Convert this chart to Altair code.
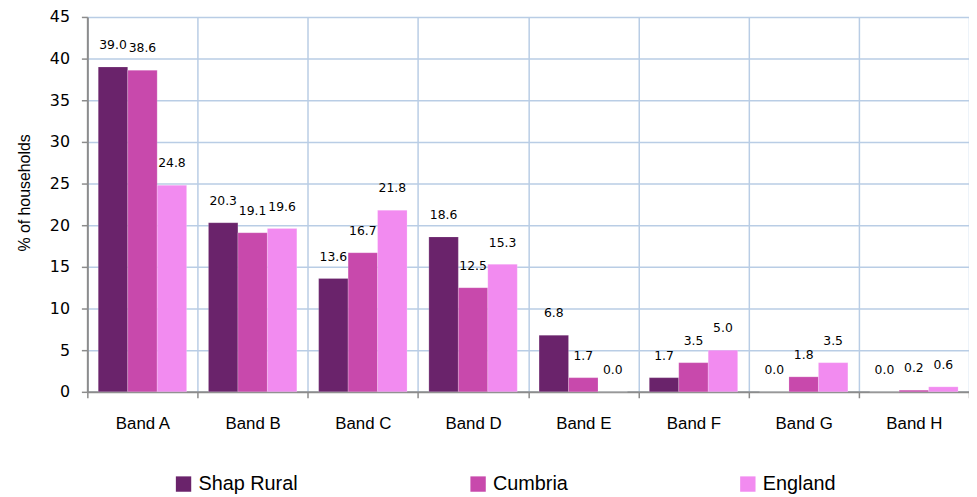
import altair as alt
import pandas as pd

bands = ["Band A", "Band B", "Band C", "Band D", "Band E", "Band F", "Band G", "Band H"]
series = ["Shap Rural", "Cumbria", "England"]
shap_rural = [39.0, 20.3, 13.6, 18.6, 6.8, 1.7, 0.0, 0.0]
cumbria = [38.6, 19.1, 16.7, 12.5, 1.7, 3.5, 1.8, 0.2]
england = [24.8, 19.6, 21.8, 15.3, 0.0, 5.0, 3.5, 0.6]
colors = ["#6a236b", "#c849ac", "#f28bf0"]

rows = []
for name, vals in zip(series, [shap_rural, cumbria, england]):
    for b, v in zip(bands, vals):
        rows.append({"band": b, "series": name, "value": v, "label": f"{v:.1f}"})
df = pd.DataFrame(rows)

font = "DejaVu Sans"
font2 = "Liberation Sans"
grid_c = "#b9cde5"
axis_c = "#8c8c8c"

x = alt.X("band:N", sort=bands, title=None,
          scale=alt.Scale(paddingInner=0, paddingOuter=0),
          axis=alt.Axis(tickBand="extent", grid=True, gridColor=grid_c, gridWidth=1.5,
                        labelAngle=0, labelFontSize=17, labelFont=font2, labelColor="#000",
                        labelPadding=18, domainColor=axis_c, domainWidth=2,
                        tickColor=axis_c, tickSize=6, tickWidth=1.5))
xo = alt.XOffset("series:N", sort=series,
                 scale=alt.Scale(paddingInner=0, paddingOuter=0.37))
y = alt.Y("value:Q", title="% of households",
          scale=alt.Scale(domain=[0, 45], nice=False),
          axis=alt.Axis(values=list(range(0, 50, 5)), grid=True, gridColor=grid_c,
                        gridWidth=1.5, labelFontSize=16, labelFont=font, labelColor="#000",
                        labelPadding=12, domainColor=axis_c, domainWidth=2,
                        tickColor=axis_c, tickSize=6, tickWidth=1.5,
                        titleFont=font2, titleFontSize=16, titleFontWeight="normal",
                        titleColor="#000", titleX=-63, titleY=177, titleAngle=270,
                        titleAlign="center", titleBaseline="middle"))

color = alt.Color("series:N", sort=series,
                  scale=alt.Scale(domain=series, range=colors),
                  legend=alt.Legend(title=None, orient="none", legendX=87, legendY=461,
                                    direction="horizontal", columns=3, columnPadding=171,
                                    symbolType="square", symbolSize=240, symbolStrokeWidth=0,
                                    labelFontSize=20, labelFont=font2, labelColor="#000",
                                    labelOffset=5, labelLimit=300))

bars = alt.Chart(df).mark_bar(stroke="white", strokeWidth=0.5, strokeOpacity=0.4).encode(
    x=x, xOffset=xo, y=y, color=color
)
text = alt.Chart(df).mark_text(font=font, fontSize=12.5, baseline="middle", dy=-22, color="#000").encode(
    x=x, xOffset=xo, y=y, text="label:N"
)

chart = (bars + text).properties(
    width=889, height=378,
    autosize=alt.AutoSizeParams(type="none"),
    padding={"left": 80, "top": 7, "right": 0, "bottom": 101},
).configure_view(stroke=None)

chart.save("out.html", embed_options={"renderer": "svg", "actions": False})
